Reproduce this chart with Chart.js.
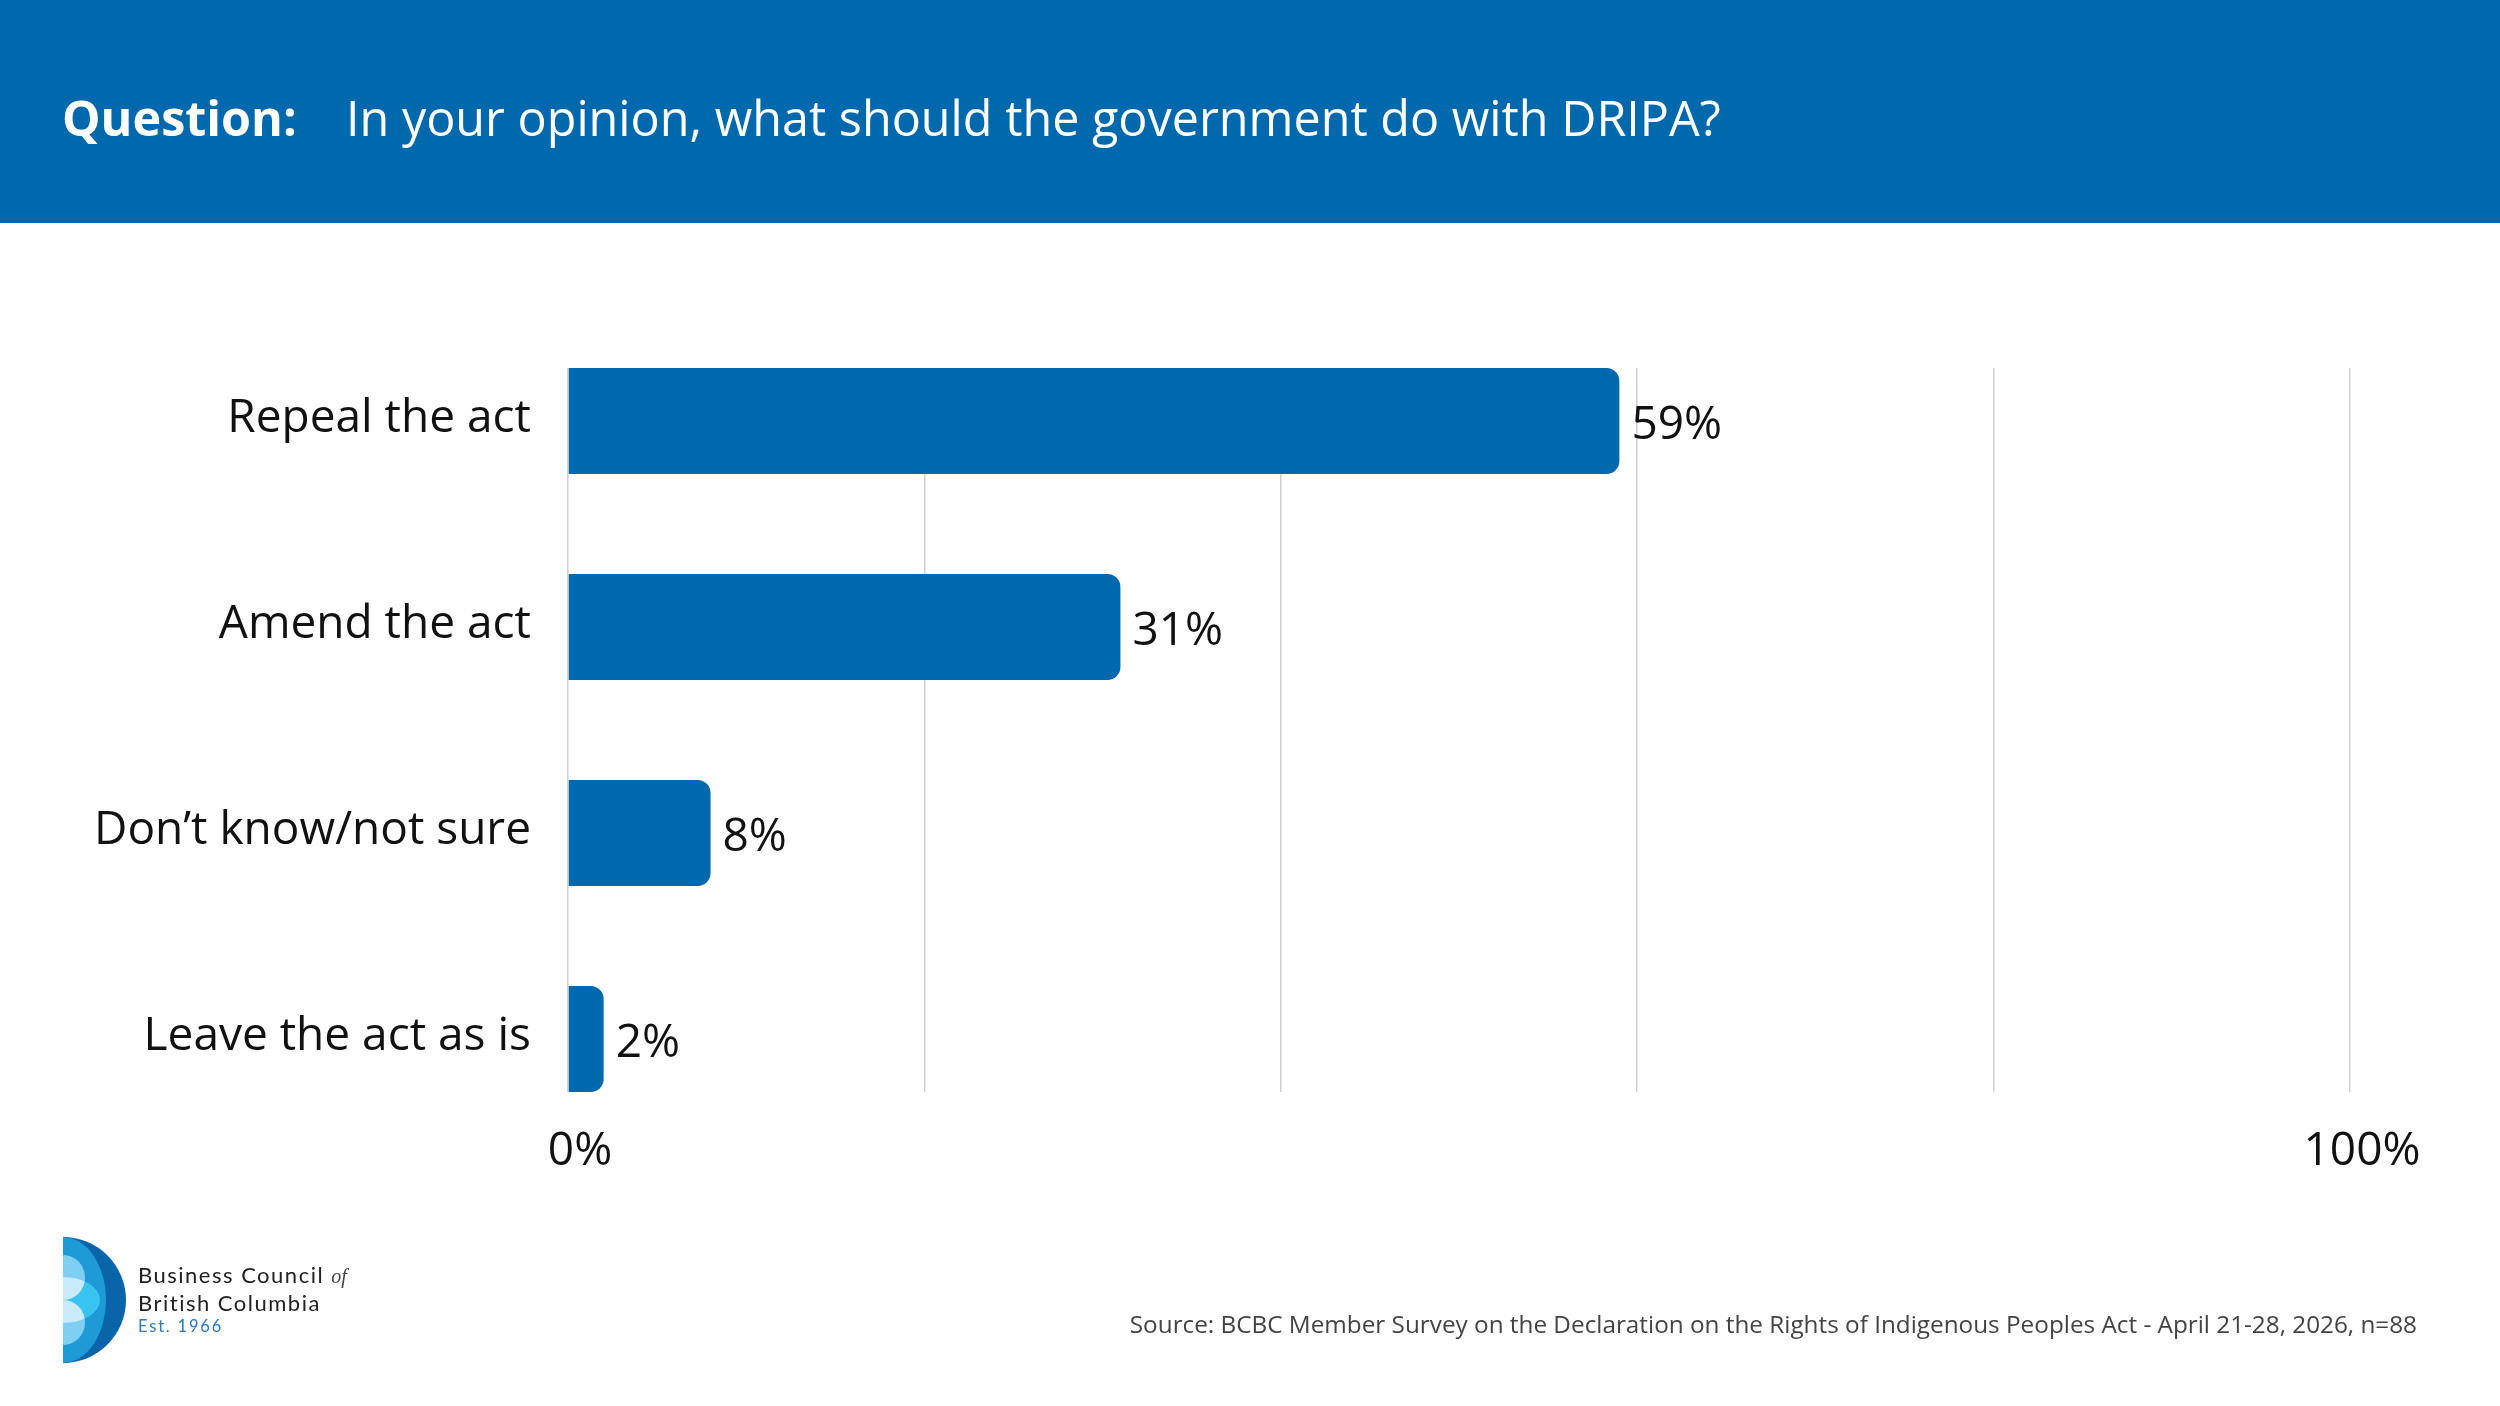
<!DOCTYPE html>
<html>
<head>
<meta charset="utf-8">
<script src="https://cdn.jsdelivr.net/npm/chart.js@4.4.1/dist/chart.umd.min.js"></script>
<style>
  body { margin: 0; width: 2500px; height: 1406px; position: relative; overflow: hidden; background: #fff; font-family: "Open Sans", sans-serif; }
  #header { position: absolute; left: 0; top: 0; width: 2500px; height: 223px; background: #0068ad; }
  #header span { position: absolute; top: 93px; font-size: 48.5px; line-height: 48.5px; color: #fff; white-space: nowrap; }
  #q1 { left: 62px; font-weight: 700; }
  #q2 { left: 346px; font-weight: 400; }
  #chartBox { position: absolute; left: 0; top: 0; width: 2500px; height: 1406px; }
  #logo { position: absolute; left: 63px; top: 1237px; }
  .lt { position: absolute; left: 138px; font-family: Lato, sans-serif; line-height: 1; white-space: nowrap; letter-spacing: 1.5px; color: #222; }
  #source { position: absolute; right: 83px; top: 1312px; font-size: 24.3px; line-height: 24.3px; color: #444; white-space: nowrap; }
</style>
</head>
<body>
<div id="chartBox"><canvas id="chart"></canvas></div>
<div id="header">
  <span id="q1">Question:</span>
  <span id="q2">In your opinion, what should the government do with DRIPA?</span>
</div>
<svg id="logo" width="64" height="126" viewBox="0 0 64 126">
  <defs>
    <clipPath id="lens"><ellipse cx="0" cy="63" rx="37" ry="23"/></clipPath>
  </defs>
  <path d="M0,0 A63,63 0 0 1 0,126 Z" fill="#0a64aa"/>
  <path d="M0,0 A43,63 0 0 1 0,126 Z" fill="#1e9ad6"/>
  <ellipse cx="0" cy="63" rx="37" ry="23" fill="#38c4f1"/>
  <ellipse cx="0" cy="40.5" rx="22" ry="22.5" fill="#80cff3"/>
  <ellipse cx="0" cy="85.5" rx="22" ry="22.5" fill="#80cff3"/>
  <g clip-path="url(#lens)">
    <ellipse cx="0" cy="40.5" rx="22" ry="22.5" fill="#c9ebfb"/>
    <ellipse cx="0" cy="85.5" rx="22" ry="22.5" fill="#c9ebfb"/>
  </g>
</svg>
<div class="lt" style="top:1264px;font-size:22px;">Business Council <span style="font-family:'Liberation Serif',serif;font-style:italic;font-size:20px;letter-spacing:0;color:#444;">of</span></div>
<div class="lt" style="top:1292px;font-size:22px;">British Columbia</div>
<div class="lt" style="top:1318px;font-size:16.5px;letter-spacing:1.8px;color:#2a7bc0;">Est. 1966</div>
<div id="source">Source: BCBC Member Survey on the Declaration on the Rights of Indigenous Peoples Act - April 21-28, 2026, n=88</div>

<script>
const categories = ["Repeal the act", "Amend the act", "Don\u2019t know/not sure", "Leave the act as is"];
const shares = [59, 31, 8, 2];
const xTickValues = [0, 100];

const barBlue = "#0068ad";
const ink = "#111111";
const gridGray = "#d0d0d0";
const labelFont = {family: "Open Sans", size: 46};

// value labels at the end of each bar
const valueLabels = {
  id: "valueLabels",
  afterDatasetsDraw(chart) {
    const ctx = chart.ctx;
    ctx.save();
    ctx.font = "46px 'Open Sans'";
    ctx.fillStyle = ink;
    ctx.textAlign = "left";
    ctx.textBaseline = "alphabetic";
    chart.getDatasetMeta(0).data.forEach((bar, i) => {
      ctx.fillText(shares[i] + "%", bar.x + 12, bar.y + 18);
    });
    ctx.restore();
  }
};

const ctx = document.getElementById("chart").getContext("2d");
new Chart(ctx, {
  type: "bar",
  data: {
    datasets: [{
      data: shares.map((v, i) => ({x: v, y: i})),
      backgroundColor: barBlue,
      borderRadius: 13,
      borderSkipped: "start",
      categoryPercentage: 1,
      barPercentage: 0.515
    }]
  },
  options: {
    indexAxis: "y",
    responsive: true,
    maintainAspectRatio: false,
    animation: false,
    layout: {padding: {top: 368, right: 150, bottom: 214, left: 0}},
    plugins: {legend: {display: false}, tooltip: {enabled: false}},
    scales: {
      x: {
        type: "linear",
        min: 0,
        max: 100,
        grid: {color: gridGray, lineWidth: 1.5, drawTicks: false},
        border: {display: false},
        ticks: {
          stepSize: 20,
          autoSkip: false,
          maxRotation: 0,
          padding: 32,
          labelOffset: 12,
          color: ink,
          font: labelFont,
          callback: v => xTickValues.includes(v) ? v + "%" : ""
        },
        afterFit: s => { s.height = 100; }
      },
      y: {
        type: "linear",
        reverse: true,
        offset: false,
        min: -0.2575,
        max: 3.2575,
        afterBuildTicks: s => { s.ticks = categories.map((c, i) => ({value: i})); },
        grid: {display: false, drawTicks: false},
        border: {display: false},
        ticks: {
          padding: 37,
          labelOffset: -2,
          color: ink,
          font: labelFont,
          callback: v => categories[v]
        },
        afterFit: s => { s.width = 568; }
      }
    }
  },
  plugins: [valueLabels]
});
</script>
</body>
</html>
